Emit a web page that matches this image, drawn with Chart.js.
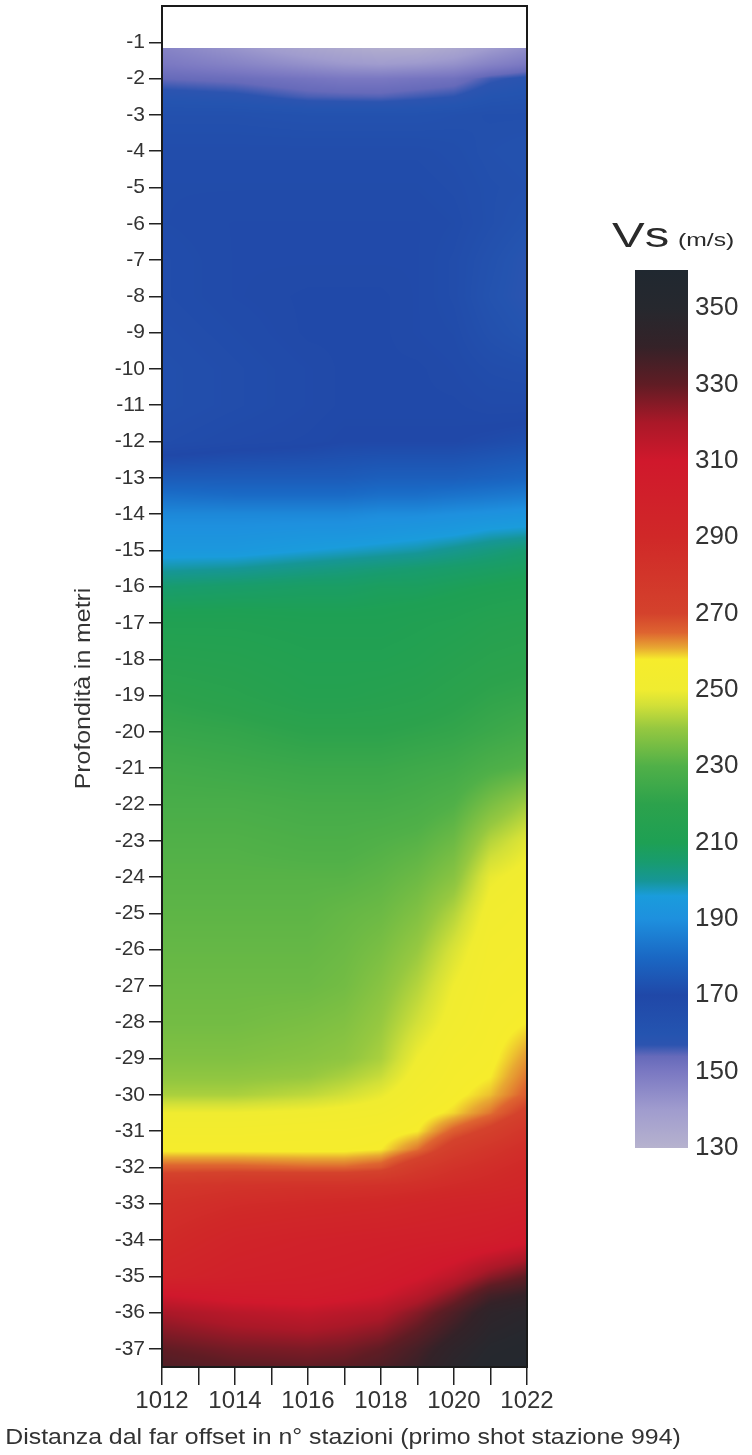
<!DOCTYPE html>
<html>
<head>
<meta charset="utf-8">
<title>Vs</title>
<script src="https://cdn.jsdelivr.net/npm/chart.js@4.4.0/dist/chart.umd.min.js"></script>
<style>
  html, body { margin: 0; padding: 0; background: #fff; }
  #wrap { position: relative; width: 752px; height: 1455px; overflow: hidden; }
  #main { position: absolute; left: 0; top: 0; }
  #scala { position: absolute; left: 600px; top: 200px; }
</style>
</head>
<body>
<div id="wrap">
  <canvas id="main" width="752" height="1455"></canvas>
  <canvas id="scala" width="152" height="1000"></canvas>
</div>
<script>
// stazioni (colonne della griglia) e profondita' (righe)
const stazioni = [1012, 1014, 1016, 1017, 1018, 1019, 1020, 1021, 1022];
const profondita = [-1.15, -1.6, -2, -2.5, -3, -4, -5, -6, -7, -8, -9, -10, -11, -12, -13, -13.5,
  -14, -14.5, -15, -15.5, -16, -17, -18, -19, -20, -21, -22, -23, -24, -25, -26, -27, -28,
  -29, -29.5, -30, -30.5, -31, -31.5, -32, -32.5, -33, -34, -35, -35.5, -36, -37, -37.5];

const vs = [
  [147, 142, 136, 134, 132, 132, 135, 140, 144],
  [150, 147, 143, 141, 140, 141, 143, 147, 150],
  [154, 153, 151, 150, 150, 151, 152, 156, 158],
  [159, 158, 155.5, 155.2, 155, 156, 157, 160, 161],
  [163, 163, 162, 162, 162, 162, 163, 164, 164],
  [166, 166, 166, 166, 166, 166, 165, 163, 162],
  [167, 167, 167, 167, 167, 167, 166, 164, 163],
  [167, 168, 168, 168, 168, 168, 167, 164, 161],
  [166, 168, 168, 168, 168, 168, 166, 162, 158],
  [166, 168, 169, 169, 169, 168, 166, 161, 157.5],
  [165, 167, 169, 169, 169, 168, 167, 163, 160],
  [164, 166, 168, 169, 169, 169, 168, 166, 165],
  [164, 166, 168, 169, 169, 169, 169, 168, 168],
  [166, 168, 169, 170, 170, 170, 170, 171, 172],
  [176, 176, 176, 176, 177, 177, 177, 178, 179],
  [182, 181, 181, 181, 182, 182, 183, 184, 185],
  [188, 188, 188, 188, 189, 189, 190, 191, 192],
  [191, 191, 192, 192, 193, 194, 195, 197, 198],
  [194, 194, 196, 197, 198, 199, 201, 203, 205],
  [199, 200, 202, 203, 204, 205, 206, 207, 208],
  [205, 206, 207, 207, 208, 208, 209, 210, 211],
  [212, 212, 211, 211, 211, 212, 213, 215, 216],
  [216, 215, 213, 213, 213, 214, 216, 218, 219],
  [220, 218, 215, 215, 216, 217, 219, 221, 222],
  [223, 222, 220, 220, 220, 221, 222, 224, 226],
  [226, 225, 224, 224, 224, 225, 226, 229, 231],
  [228, 228, 227, 227, 227, 228, 230, 236, 241],
  [230, 230, 229, 229, 230, 231, 234, 243, 248],
  [231, 231, 231, 231, 232, 234, 238, 249, 252],
  [232, 232, 232, 233, 234, 237, 243, 252, 254],
  [233, 233, 233, 234, 236, 240, 247, 254, 255],
  [234, 234, 234, 235, 238, 243, 250, 255, 256],
  [235, 235, 236, 237, 240, 246, 252, 256, 258],
  [237, 237, 238, 239, 242, 250, 255, 257, 262],
  [239, 239, 240, 242, 245, 252, 256, 258, 264],
  [242, 242, 244, 246, 249, 254, 257, 260, 266],
  [250, 250, 251, 252, 253, 256, 259, 264, 272],
  [254, 254, 255, 255, 256, 258, 266, 272, 280],
  [257, 257, 257, 257, 258, 264, 274, 280, 286],
  [266, 266, 265, 265, 267, 276, 282, 286, 290],
  [278, 281, 282, 282, 283, 285, 288, 290, 293],
  [283, 287, 289, 290, 291, 293, 295, 296, 298],
  [288, 295, 298, 299, 300, 301, 302, 304, 308],
  [295, 300, 302, 303, 305, 309, 315, 324, 330],
  [310, 306, 305, 307, 310, 316, 325, 336, 340],
  [320, 316, 314, 316, 318, 325, 334, 344, 347],
  [330, 327, 326, 327, 330, 336, 344, 350, 352],
  [334, 331, 330, 331, 334, 339, 347, 352, 354]
];

// tacche degli assi
const ticksStazioni = [1012, 1013, 1014, 1015, 1016, 1017, 1018, 1019, 1020, 1021, 1022];
const etichetteStazioni = ['1012', '', '1014', '', '1016', '', '1018', '', '1020', '', '1022'];
const ticksProf = [-1, -2, -3, -4, -5, -6, -7, -8, -9, -10, -11, -12, -13, -14, -15, -16, -17, -18, -19,
  -20, -21, -22, -23, -24, -25, -26, -27, -28, -29, -30, -31, -32, -33, -34, -35, -36, -37];
const ticksScala = [130, 150, 170, 190, 210, 230, 250, 270, 290, 310, 330, 350];

// scala colori (valore -> rgb)
const scalaValori = [130, 140, 150, 154, 157, 160, 170, 180, 190, 196, 200, 205, 210, 220, 230, 240,
  246, 250, 258, 261, 265, 270, 290, 310, 320, 330, 340, 350, 360];
const scalaColori = [
  [182, 178, 206], [160, 156, 206], [122, 120, 194], [102, 106, 186], [44, 84, 176], [36, 84, 176],
  [32, 72, 168], [26, 104, 196], [30, 144, 222], [26, 156, 220], [22, 150, 150], [24, 156, 110],
  [30, 160, 84], [44, 162, 76], [80, 176, 72], [150, 200, 64], [210, 224, 56], [240, 236, 48],
  [246, 236, 44], [232, 168, 50], [222, 100, 48], [212, 66, 44], [208, 40, 40], [208, 24, 44],
  [170, 24, 40], [96, 28, 36], [52, 34, 40], [38, 40, 46], [32, 40, 48]
];

const coloreTesto = '#333';
const fontBase = 'Liberation Sans, Arial, sans-serif';
const titoloX = 'Distanza dal far offset in n° stazioni (primo shot stazione 994)';
const titoloY = 'Profondità in metri';

function coloreVs(v) {
  if (v <= scalaValori[0]) return scalaColori[0];
  for (let i = 1; i < scalaValori.length; i++) {
    if (v <= scalaValori[i]) {
      const t = (v - scalaValori[i - 1]) / (scalaValori[i] - scalaValori[i - 1]);
      const a = scalaColori[i - 1], b = scalaColori[i];
      return [a[0] + (b[0] - a[0]) * t, a[1] + (b[1] - a[1]) * t, a[2] + (b[2] - a[2]) * t];
    }
  }
  return scalaColori[scalaColori.length - 1];
}

// posizione frazionaria di un valore dentro un array ordinato (crescente o decrescente)
function indiceFraz(arr, v) {
  const crescente = arr[arr.length - 1] > arr[0];
  for (let i = 0; i < arr.length - 1; i++) {
    const a = arr[i], b = arr[i + 1];
    const dentro = crescente ? (v >= a && v <= b) : (v <= a && v >= b);
    if (dentro) return i + (v - a) / (b - a);
  }
  return v < arr[0] === crescente ? 0 : arr.length - 1;
}

// testo allargato in orizzontale come nell'originale
function testoLargo(ctx, testo, x, y, size, sx, rot) {
  ctx.save();
  ctx.translate(x, y);
  if (rot) ctx.rotate(rot);
  ctx.scale(sx, 1);
  ctx.font = size + 'px ' + fontBase;
  ctx.fillStyle = coloreTesto;
  ctx.textAlign = 'center';
  ctx.textBaseline = 'middle';
  ctx.fillText(testo, 0, 0);
  ctx.restore();
}

// disegna la sezione Vs usando le scale del grafico
const pluginSezione = {
  id: 'sezione',
  beforeDatasetsDraw(chart) {
    const { ctx, scales: { x, y } } = chart;
    const left = Math.round(x.getPixelForValue(stazioni[0]));
    const right = Math.round(x.getPixelForValue(stazioni[stazioni.length - 1]));
    const top = Math.round(y.getPixelForValue(profondita[0]));
    const bottom = Math.round(y.getPixelForValue(profondita[profondita.length - 1]));
    const w = right - left, h = bottom - top;
    const off = document.createElement('canvas');
    off.width = w; off.height = h;
    const octx = off.getContext('2d');
    const img = octx.createImageData(w, h);
    const colonne = [];
    for (let px = 0; px < w; px++) colonne.push(indiceFraz(stazioni, x.getValueForPixel(left + px + 0.5)));
    for (let py = 0; py < h; py++) {
      const fr = indiceFraz(profondita, y.getValueForPixel(top + py + 0.5));
      const r0 = Math.min(Math.floor(fr), profondita.length - 2);
      const ty = fr - r0;
      for (let px = 0; px < w; px++) {
        const fc = colonne[px];
        const c0 = Math.min(Math.floor(fc), stazioni.length - 2);
        const tx = fc - c0;
        const v = (vs[r0][c0] * (1 - tx) + vs[r0][c0 + 1] * tx) * (1 - ty) +
                  (vs[r0 + 1][c0] * (1 - tx) + vs[r0 + 1][c0 + 1] * tx) * ty;
        const col = coloreVs(v);
        const k = (py * w + px) * 4;
        img.data[k] = col[0]; img.data[k + 1] = col[1]; img.data[k + 2] = col[2]; img.data[k + 3] = 255;
      }
    }
    octx.putImageData(img, 0, 0);
    ctx.drawImage(off, left, top);
  },
  afterDraw(chart) {
    const { ctx, chartArea: a } = chart;
    ctx.save();
    ctx.strokeStyle = '#1a1a1a';
    ctx.lineWidth = 2;
    ctx.strokeRect(a.left, a.top, a.right - a.left, a.bottom - a.top);
    ctx.restore();
    // titoli degli assi
    testoLargo(ctx, titoloX, 343, 1438, 22, 1.13, 0);
    testoLargo(ctx, titoloY, 84, (a.top + a.bottom) / 2 + 2, 22, 1.13, -Math.PI / 2);
  }
};

new Chart(document.getElementById('main'), {
  type: 'scatter',
  data: { datasets: [{ data: [], pointRadius: 0 }] },
  options: {
    responsive: false,
    animation: false,
    devicePixelRatio: 1,
    layout: { padding: { top: 6, right: 225, bottom: 0, left: 0 } },
    plugins: { legend: { display: false }, tooltip: { enabled: false } },
    scales: {
      x: {
        type: 'linear', min: 1012, max: 1022,
        afterBuildTicks: s => { s.ticks = ticksStazioni.map(v => ({ value: v })); },
        afterFit: s => { s.height = 88; s.paddingLeft = 0; s.paddingRight = 0; },
        grid: { drawOnChartArea: false, drawTicks: true, tickLength: 18, color: '#222', tickColor: '#222', lineWidth: 1.5 },
        border: { display: false },
        ticks: {
          autoSkip: false, maxRotation: 0, padding: 2, color: coloreTesto,
          font: { family: fontBase, size: 24 },
          callback: (v, i) => etichetteStazioni[i]
        }
      },
      y: {
        type: 'linear', min: -37.5, max: 0,
        afterBuildTicks: s => { s.ticks = ticksProf.map(v => ({ value: v })); },
        afterFit: s => { s.width = 162; s.paddingTop = 0; s.paddingBottom = 0; },
        grid: { drawOnChartArea: false, drawTicks: true, tickLength: 13, color: '#222', tickColor: '#222', lineWidth: 1.5 },
        border: { display: false },
        ticks: { autoSkip: false, padding: 4, color: coloreTesto, font: { family: fontBase, size: 21 } }
      }
    }
  },
  plugins: [pluginSezione]
});

// barra dei colori con titolo
const pluginTitoloScala = {
  id: 'titoloScala',
  afterDraw(chart) {
    const ctx = chart.ctx;
    ctx.save();
    ctx.fillStyle = '#2a2a2a';
    ctx.textBaseline = 'alphabetic';
    ctx.translate(12, 47);
    ctx.scale(1.4, 1);
    ctx.font = '35px ' + fontBase;
    ctx.fillText('Vs', 0, 0);
    ctx.restore();
    ctx.save();
    ctx.fillStyle = '#2a2a2a';
    ctx.translate(78, 46);
    ctx.scale(1.3, 1);
    ctx.font = '19px ' + fontBase;
    ctx.fillText('(m/s)', 0, 0);
    ctx.restore();
  }
};

new Chart(document.getElementById('scala'), {
  type: 'bar',
  data: {
    labels: ['Vs'],
    datasets: [{
      data: [[130, 360]],
      borderWidth: 0,
      barPercentage: 1,
      categoryPercentage: 1,
      backgroundColor: c => {
        const chart = c.chart;
        if (!chart.chartArea) return '#888';
        const y = chart.scales.y;
        const g = chart.ctx.createLinearGradient(0, y.getPixelForValue(130), 0, y.getPixelForValue(360));
        scalaValori.forEach((v, i) => {
          const col = scalaColori[i];
          g.addColorStop((v - 130) / 230, 'rgb(' + col.join(',') + ')');
        });
        return g;
      }
    }]
  },
  options: {
    responsive: false,
    animation: false,
    devicePixelRatio: 1,
    layout: { padding: { left: 35, top: 70, bottom: 52, right: 0 } },
    plugins: { legend: { display: false }, tooltip: { enabled: false } },
    scales: {
      x: { display: false },
      y: {
        position: 'right', min: 130, max: 360,
        afterBuildTicks: s => { s.ticks = ticksScala.map(v => ({ value: v })); },
        afterFit: s => { s.width = 64; s.paddingTop = 0; s.paddingBottom = 0; },
        grid: { display: false, drawTicks: false },
        border: { display: false },
        ticks: { padding: 7, color: coloreTesto, font: { family: fontBase, size: 26 } }
      }
    }
  },
  plugins: [pluginTitoloScala]
});
</script>
</body>
</html>
